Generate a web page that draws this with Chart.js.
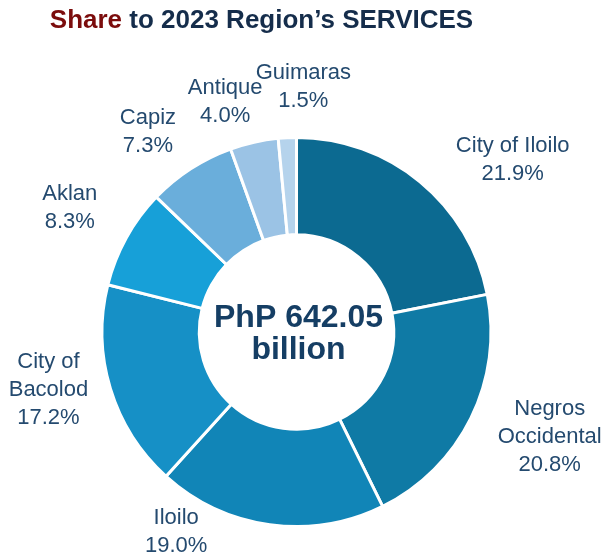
<!DOCTYPE html>
<html>
<head>
<meta charset="utf-8">
<script src="https://cdn.jsdelivr.net/npm/chart.js@4/dist/chart.umd.min.js"></script>
<style>
  html, body { margin: 0; padding: 0; background: #fff; }
  #wrap { position: relative; width: 605px; height: 559px; }
  #title {
    position: absolute; top: 6px; left: 0; width: 523px;
    text-align: center; white-space: nowrap;
    font: bold 26px/26px "Liberation Sans", Arial, sans-serif;
    color: #152d4b;
  }
  #title .hl { color: #7b0c0c; }
  canvas { position: absolute; left: 0; top: 0; }
</style>
</head>
<body>
<div id="wrap">
  <canvas id="chart" width="605" height="559"></canvas>
  <div id="title"><span class="hl">Share</span> to 2023 Region’s SERVICES</div>
</div>
<script>
  // data
  const regions = ['City of Iloilo', 'Negros Occidental', 'Iloilo', 'City of Bacolod', 'Aklan', 'Capiz', 'Antique', 'Guimaras'];
  const shares = [21.9, 20.8, 19.0, 17.2, 8.3, 7.3, 4.0, 1.5];
  const centerLines = ['PhP 642.05', 'billion'];

  // style
  const sliceColors = ['#0c6a91', '#0f7aa5', '#1185b7', '#1690c6', '#17a0d8', '#6aaedb', '#9bc3e5', '#b5d3ec'];
  const labelLines = [['City of Iloilo'], ['Negros', 'Occidental'], ['Iloilo'], ['City of', 'Bacolod'], ['Aklan'], ['Capiz'], ['Antique'], ['Guimaras']];
  // [angle nudge in degrees, distance as share of outer radius]
  const labelNudge = [[12.1, 1.42], [-3.7, 1.41], [23.1, 1.20], [3.7, 1.31], [-0.2, 1.33], [-3.7, 1.28], [-4.6, 1.24], [4.3, 1.26]];
  const FONT = '"Liberation Sans", Arial, sans-serif';

  const outsideLabels = {
    id: 'outsideLabels',
    afterDatasetsDraw(chart) {
      const ctx = chart.ctx;
      const meta = chart.getDatasetMeta(0);
      ctx.save();
      ctx.fillStyle = '#244a6f';
      ctx.font = '22px ' + FONT;
      ctx.textAlign = 'center';
      ctx.textBaseline = 'middle';
      meta.data.forEach((arc, i) => {
        const p = arc.getProps(['x', 'y', 'startAngle', 'endAngle', 'outerRadius'], true);
        const mid = (p.startAngle + p.endAngle) / 2 + labelNudge[i][0] * Math.PI / 180;
        const r = p.outerRadius * labelNudge[i][1];
        const x = p.x + r * Math.cos(mid);
        const y = p.y + r * Math.sin(mid);
        const lines = labelLines[i].concat(shares[i].toFixed(1) + '%');
        const lh = 28;
        lines.forEach((t, k) => {
          ctx.fillText(t, x, y + (k - (lines.length - 1) / 2) * lh);
        });
      });

      // center total
      const a = meta.data[0];
      ctx.fillStyle = '#153e64';
      ctx.font = 'bold 32px ' + FONT;
      ctx.textBaseline = 'alphabetic';
      ctx.fillText(centerLines[0], a.x + 2, a.y - 5);
      ctx.fillText(centerLines[1], a.x + 2, a.y + 27);
      ctx.restore();
    }
  };

  new Chart(document.getElementById('chart'), {
    type: 'doughnut',
    data: {
      labels: regions,
      datasets: [{
        data: shares,
        backgroundColor: sliceColors,
        borderColor: '#ffffff',
        borderWidth: 3,
      }],
    },
    options: {
      responsive: false,
      animation: false,
      cutout: '50%',
      layout: { padding: { top: 136, bottom: 31, left: 100, right: 112 } },
      plugins: {
        legend: { display: false },
        tooltip: { enabled: false },
      },
    },
    plugins: [outsideLabels],
  });
</script>
</body>
</html>
